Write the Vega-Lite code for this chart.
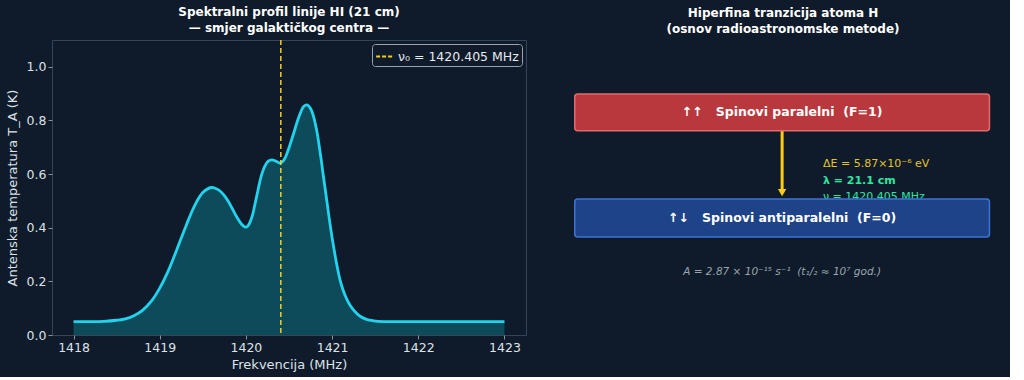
{
  "$schema": "https://vega.github.io/schema/vega-lite/v6.json",
  "background": "#0f1b2a",
  "padding": 5,
  "spacing": 34,
  "resolve": {"legend": {"color": "independent"}, "scale": {"color": "independent"}},
  "config": {
    "font": "DejaVu Sans",
    "title": {"color": "#ffffff", "fontSize": 12, "fontWeight": "bold", "anchor": "middle", "lineHeight": 16, "offset": 4},
    "axis": {"labelColor": "#dde2e8", "titleColor": "#dde2e8", "labelFontSize": 12.5, "titleFontSize": 13, "titleFontWeight": "normal", "tickColor": "#8893a0", "domain": false, "grid": false, "tickSize": 4}
  },
  "hconcat": [
    {
      "width": 474,
      "height": 295,
      "view": {"stroke": "#34455a", "fill": "#0f1b2a"},
      "title": {"text": ["Spektralni profil linije HI (21 cm)", "— smjer galaktičkog centra —"]},
      "layer": [
        {
          "data": {"name": "curve", "values": [
            {"f": 1418.0, "t": 0.05}, {"f": 1418.2, "t": 0.05}, {"f": 1418.35, "t": 0.051}, {"f": 1418.5, "t": 0.055},
            {"f": 1418.6, "t": 0.06}, {"f": 1418.7, "t": 0.072}, {"f": 1418.8, "t": 0.092}, {"f": 1418.9, "t": 0.125},
            {"f": 1419.0, "t": 0.175}, {"f": 1419.1, "t": 0.24}, {"f": 1419.2, "t": 0.32}, {"f": 1419.3, "t": 0.403},
            {"f": 1419.4, "t": 0.479}, {"f": 1419.5, "t": 0.531}, {"f": 1419.6, "t": 0.55},
            {"f": 1419.65, "t": 0.546}, {"f": 1419.7, "t": 0.537}, {"f": 1419.75, "t": 0.52}, {"f": 1419.8, "t": 0.496},
            {"f": 1419.85, "t": 0.466}, {"f": 1419.9, "t": 0.437}, {"f": 1419.95, "t": 0.413}, {"f": 1420.0, "t": 0.402},
            {"f": 1420.03, "t": 0.41}, {"f": 1420.07, "t": 0.44}, {"f": 1420.1, "t": 0.48}, {"f": 1420.14, "t": 0.54},
            {"f": 1420.18, "t": 0.595}, {"f": 1420.22, "t": 0.63}, {"f": 1420.26, "t": 0.648}, {"f": 1420.3, "t": 0.653},
            {"f": 1420.35, "t": 0.648}, {"f": 1420.4, "t": 0.641}, {"f": 1420.44, "t": 0.652}, {"f": 1420.48, "t": 0.68},
            {"f": 1420.52, "t": 0.718}, {"f": 1420.56, "t": 0.758}, {"f": 1420.6, "t": 0.8}, {"f": 1420.64, "t": 0.834},
            {"f": 1420.67, "t": 0.852}, {"f": 1420.71, "t": 0.858}, {"f": 1420.75, "t": 0.845}, {"f": 1420.78, "t": 0.82},
            {"f": 1420.82, "t": 0.765}, {"f": 1420.86, "t": 0.684}, {"f": 1420.9, "t": 0.59}, {"f": 1420.94, "t": 0.498},
            {"f": 1420.98, "t": 0.405}, {"f": 1421.02, "t": 0.324}, {"f": 1421.06, "t": 0.253}, {"f": 1421.1, "t": 0.196},
            {"f": 1421.15, "t": 0.148}, {"f": 1421.21, "t": 0.11}, {"f": 1421.27, "t": 0.086}, {"f": 1421.33, "t": 0.069},
            {"f": 1421.4, "t": 0.058}, {"f": 1421.48, "t": 0.053}, {"f": 1421.6, "t": 0.05}, {"f": 1421.8, "t": 0.05},
            {"f": 1422.0, "t": 0.05}, {"f": 1422.5, "t": 0.05}, {"f": 1423.0, "t": 0.05}
          ]},
          "layer": [
            {
              "mark": {"type": "area", "interpolate": "catmull-rom", "color": "#0d4b5b"},
              "encoding": {
                "x": {"field": "f", "type": "quantitative", "scale": {"domain": [1417.75, 1423.25], "nice": false, "zero": false},
                      "axis": {"values": [1418, 1419, 1420, 1421, 1422, 1423], "format": "d", "title": "Frekvencija (MHz)", "titlePadding": 5}},
                "y": {"field": "t", "type": "quantitative", "scale": {"domain": [0, 1.1], "nice": false},
                      "axis": {"values": [0, 0.2, 0.4, 0.6, 0.8, 1.0], "format": ".1f", "title": "Antenska temperatura T_A (K)", "titlePadding": 7}}
              }
            },
            {
              "mark": {"type": "line", "interpolate": "catmull-rom", "color": "#22d3ee", "strokeWidth": 2.8},
              "encoding": {
                "x": {"field": "f", "type": "quantitative"},
                "y": {"field": "t", "type": "quantitative"}
              }
            }
          ]
        },
        {
          "data": {"values": [{"v": 1420.405, "lab": "ν₀ = 1420.405 MHz"}]},
          "mark": {"type": "rule", "strokeDash": [5, 3], "strokeWidth": 1.5},
          "encoding": {
            "x": {"field": "v", "type": "quantitative"},
            "color": {"field": "lab", "type": "nominal", "scale": {"range": ["#facc15"]},
                      "legend": {"title": null, "orient": "top-right", "offset": 4, "symbolType": "stroke", "symbolDash": [4, 2], "symbolStrokeWidth": 1.8, "symbolSize": 280,
                                 "labelColor": "#e6e9ee", "labelFontSize": 12.5, "fillColor": "#0f1b2a", "strokeColor": "#9aa3ad", "padding": 3, "cornerRadius": 3}}
          }
        }
      ]
    },
    {
      "width": 444,
      "height": 295,
      "view": {"stroke": null},
      "title": {"text": ["Hiperfina tranzicija atoma H", "(osnov radioastronomske metode)"]},
      "layer": [
        {
          "data": {"values": [{"x": 4.98, "y1": 6.92, "y2": 4.85}]},
          "mark": {"type": "rule", "color": "#facc15", "strokeWidth": 3},
          "encoding": {
            "x": {"field": "x", "type": "quantitative", "scale": {"domain": [0, 10], "nice": false}, "axis": null},
            "y": {"field": "y1", "type": "quantitative", "scale": {"domain": [0, 10], "nice": false}, "axis": null},
            "y2": {"field": "y2"}
          }
        },
        {
          "data": {"values": [{"x": 4.98, "y": 4.83}]},
          "mark": {"type": "point", "shape": "triangle-down", "filled": true, "color": "#facc15", "size": 70, "opacity": 1},
          "encoding": {
            "x": {"field": "x", "type": "quantitative"},
            "y": {"field": "y", "type": "quantitative"}
          }
        },
        {
          "data": {"values": [{"x": 5.9, "y": 4.68, "txt": "ν = 1420.405 MHz"}]},
          "mark": {"type": "text", "align": "left", "baseline": "middle", "fontSize": 11, "color": "#2ee5a0"},
          "encoding": {
            "x": {"field": "x", "type": "quantitative"},
            "y": {"field": "y", "type": "quantitative"},
            "text": {"field": "txt"}
          }
        },
        {
          "data": {"values": [{"x1": 0.31, "x2": 9.65, "y1": 6.92, "y2": 8.17}]},
          "mark": {"type": "rect", "color": "#b8383e", "stroke": "#e26a6a", "strokeWidth": 1.5, "cornerRadius": 3},
          "encoding": {
            "x": {"field": "x1", "type": "quantitative"}, "x2": {"field": "x2"},
            "y": {"field": "y1", "type": "quantitative"}, "y2": {"field": "y2"}
          }
        },
        {
          "data": {"values": [{"x1": 0.31, "x2": 9.65, "y1": 3.32, "y2": 4.61}]},
          "mark": {"type": "rect", "color": "#1e4389", "stroke": "#3b74d4", "strokeWidth": 1.5, "cornerRadius": 3},
          "encoding": {
            "x": {"field": "x1", "type": "quantitative"}, "x2": {"field": "x2"},
            "y": {"field": "y1", "type": "quantitative"}, "y2": {"field": "y2"}
          }
        },
        {
          "data": {"values": [
            {"x": 4.98, "y": 7.56, "txt": "↑↑\u00a0\u00a0\u00a0Spinovi paralelni\u00a0\u00a0(F=1)"},
            {"x": 4.98, "y": 3.96, "txt": "↑↓\u00a0\u00a0\u00a0Spinovi antiparalelni\u00a0\u00a0(F=0)"}
          ]},
          "mark": {"type": "text", "align": "center", "baseline": "middle", "fontSize": 12.5, "fontWeight": "bold", "color": "#ffffff"},
          "encoding": {
            "x": {"field": "x", "type": "quantitative"},
            "y": {"field": "y", "type": "quantitative"},
            "text": {"field": "txt"}
          }
        },
        {
          "data": {"values": [{"x": 5.9, "y": 5.8, "txt": "ΔE = 5.87×10⁻⁶ eV"}]},
          "mark": {"type": "text", "align": "left", "baseline": "middle", "fontSize": 11, "color": "#e3c22c"},
          "encoding": {
            "x": {"field": "x", "type": "quantitative"},
            "y": {"field": "y", "type": "quantitative"},
            "text": {"field": "txt"}
          }
        },
        {
          "data": {"values": [{"x": 5.9, "y": 5.23, "txt": "λ = 21.1 cm"}]},
          "mark": {"type": "text", "align": "left", "baseline": "middle", "fontSize": 11, "fontWeight": "bold", "color": "#2ee5a0"},
          "encoding": {
            "x": {"field": "x", "type": "quantitative"},
            "y": {"field": "y", "type": "quantitative"},
            "text": {"field": "txt"}
          }
        },
        {
          "data": {"values": [{"x": 4.98, "y": 2.14, "txt": "A = 2.87 × 10⁻¹⁵ s⁻¹\u00a0\u00a0(t₁/₂ ≈ 10⁷ god.)"}]},
          "mark": {"type": "text", "align": "center", "baseline": "middle", "fontSize": 10.5, "fontStyle": "italic", "color": "#9aa4b0"},
          "encoding": {
            "x": {"field": "x", "type": "quantitative"},
            "y": {"field": "y", "type": "quantitative"},
            "text": {"field": "txt"}
          }
        }
      ]
    }
  ]
}
